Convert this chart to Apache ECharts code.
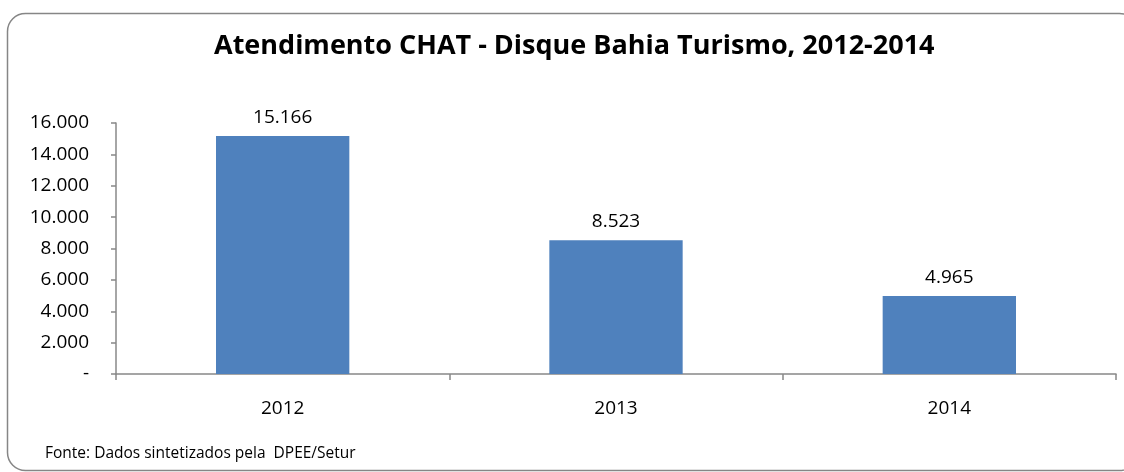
<!DOCTYPE html>
<html>
<head>
<meta charset="utf-8">
<script src="https://cdn.jsdelivr.net/npm/echarts@6/dist/echarts.min.js"></script>
<style>html,body{margin:0;padding:0;background:#fff}#c{width:1124px;height:472px}</style>
</head>
<body>
<div id="c"></div>
<script>
const categories = ['2012', '2013', '2014'];
const values = [15166, 8523, 4965];
const titleText = 'Atendimento CHAT - Disque Bahia Turismo, 2012-2014';
const sourceText = 'Fonte: Dados sintetizados pela  DPEE/Setur';

function fmt(v) {
  if (v === 0) return '-';
  return String(v).replace(/\B(?=(\d{3})+(?!\d))/g, '.');
}

const FONT = '"Open Sans", sans-serif';
const chart = echarts.init(document.getElementById('c'), null, {renderer: 'canvas'});
chart.setOption({
  animation: false,
  backgroundColor: '#fff',
  title: {
    text: titleText,
    left: 209,
    top: 28,
    textStyle: {fontFamily: FONT, fontWeight: 'bold', fontSize: 27, color: '#000'}
  },
  graphic: [
    {
      type: 'rect',
      shape: {x: 7.5, y: 13.5, width: 1130, height: 457, r: 18},
      style: {fill: 'none', stroke: '#868686', lineWidth: 1.5},
      z: -1
    },
    {
      type: 'text',
      left: 45,
      top: 446,
      style: {text: sourceText, fontFamily: FONT, fontSize: 15.5, fill: '#000'}
    }
  ],
  grid: {left: 116, right: 8, top: 123, bottom: 98},
  xAxis: {
    type: 'category',
    data: categories,
    axisLine: {lineStyle: {color: '#888', width: 1.5}},
    axisTick: {show: true, length: 6, lineStyle: {color: '#888', width: 1.5}},
    axisLabel: {fontFamily: FONT, fontSize: 19, color: '#000', margin: 25}
  },
  yAxis: {
    type: 'value',
    min: 0, max: 16000, interval: 2000,
    splitLine: {show: false},
    axisLine: {show: true, lineStyle: {color: '#888', width: 1.5}},
    axisTick: {show: true, length: 5, lineStyle: {color: '#888', width: 1.5}},
    axisLabel: {fontFamily: FONT, fontSize: 19, color: '#000', margin: 27, formatter: fmt}
  },
  series: [{
    type: 'bar',
    data: values,
    barWidth: '40%',
    itemStyle: {color: '#4F81BD'},
    label: {
      show: true, position: 'top', distance: 9,
      fontFamily: FONT, fontSize: 19, color: '#000',
      formatter: p => fmt(p.value)
    }
  }]
});
</script>
</body>
</html>
